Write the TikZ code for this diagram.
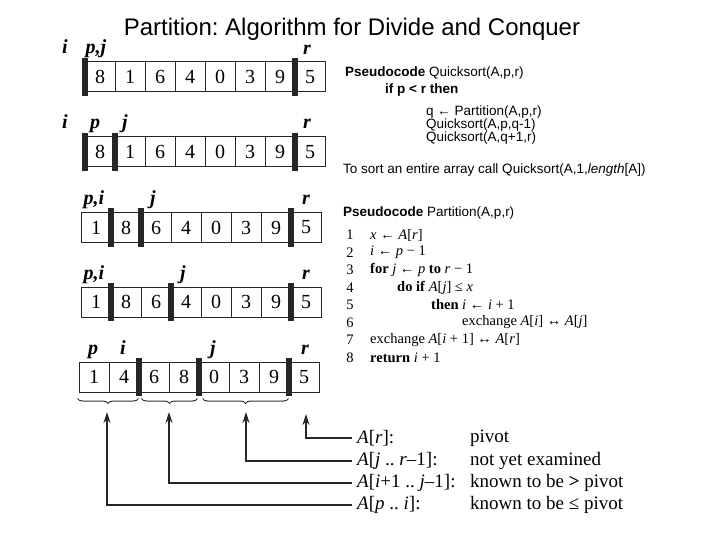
\documentclass[tikz,border=0pt]{standalone}
\usepackage{fontspec}
\setmainfont{Liberation Serif}
\setsansfont{Liberation Sans}
\frenchspacing
\usetikzlibrary{arrows.meta, positioning, decorations.pathreplacing}

\tikzset{
  cell/.style={draw=black!85, line width=1pt, minimum width=30pt,
               minimum height=30pt, inner sep=0pt,
               font=\fontsize{20}{20}\selectfont},
  bar/.style={fill=black!85, minimum width=6pt, minimum height=38pt, inner sep=0pt},
  ptr/.style={anchor=base, inner sep=0pt,
              font=\fontsize{20}{20}\selectfont\bfseries\itshape},
  code/.style={anchor=west, inner sep=0pt, font=\sffamily\fontsize{13.5}{14}\selectfont},
  line/.style={anchor=west, inner sep=0pt, font=\fontsize{14.5}{15}\selectfont},
  lnum/.style={inner sep=0pt, font=\fontsize{14.5}{15}\selectfont},
  leg/.style={anchor=west, inner ysep=0pt, inner xsep=5pt,
              font=\fontsize{19}{20}\selectfont},
  brc/.style={decorate, decoration={brace, mirror, amplitude=5pt},
              black!80, line width=1pt},
  arr/.style={-{Stealth[length=11pt, width=7pt]}, black!85, line width=1.2pt},
}

\begin{document}
\begin{tikzpicture}[x=1pt, y=-1pt]
  \useasboundingbox (0,0) rectangle (720,540);

  \node[inner sep=0pt, font=\sffamily\fontsize{24}{24}\selectfont] (title) at (352,29)
    {Partition: Algorithm for Divide and Conquer};

  % row 1
  \foreach \v [count=\k] in {8,1,6,4,0,3,9,5}
    \node[cell] (a\k) at ({85+30*\k-15}, 77) {\v};
  \node[bar] (ab1) at (a1.west) {};
  \node[bar] (ab2) at (a8.west) {};
  \node[ptr] (ai) at (65,54) {i};
  \node[ptr] (apj) at (96,54) {p,j};
  \node[ptr] (ar) at (307,55) {r};

  % row 2
  \foreach \v [count=\k] in {8,1,6,4,0,3,9,5}
    \node[cell] (b\k) at ({85+30*\k-15}, 152) {\v};
  \node[bar] (bb1) at (b1.west) {};
  \node[bar] (bb2) at (b2.west) {};
  \node[bar] (bb3) at (b8.west) {};
  \node[ptr] (bi) at (65,129) {i};
  \node[ptr] (bp) at (95,129) {p};
  \node[ptr] (bj) at (125,129) {j};
  \node[ptr] (br) at (307,129) {r};

  % row 3
  \foreach \v [count=\k] in {1,8,6,4,0,3,9,5}
    \node[cell] (c\k) at ({81+30*\k-15}, 227.5) {\v};
  \node[bar] (cb1) at (c2.west) {};
  \node[bar] (cb2) at (c3.west) {};
  \node[bar] (cb3) at (c8.west) {};
  \node[ptr] (cpi) at (94,205) {p,i};
  \node[ptr] (cj) at (153,205) {j};
  \node[ptr] (cr) at (306,205) {r};

  % row 4
  \foreach \v [count=\k] in {1,8,6,4,0,3,9,5}
    \node[cell] (d\k) at ({81+30*\k-15}, 302) {\v};
  \node[bar] (db1) at (d2.west) {};
  \node[bar] (db2) at (d4.west) {};
  \node[bar] (db3) at (d8.west) {};
  \node[ptr] (dpi) at (94,279) {p,i};
  \node[ptr] (dj) at (183,279) {j};
  \node[ptr] (dr) at (306,279) {r};

  % row 5
  \foreach \v [count=\k] in {1,4,6,8,0,3,9,5}
    \node[cell] (e\k) at ({79+30*\k-15}, 377) {\v};
  \node[bar] (eb1) at (e3.west) {};
  \node[bar] (eb2) at (e5.west) {};
  \node[bar] (eb3) at (e8.west) {};
  \node[ptr] (ep) at (93,354) {p};
  \node[ptr] (ei) at (123,354) {i};
  \node[ptr] (ej) at (213,354) {j};
  \node[ptr] (er) at (305,354) {r};

  % braces under the last row
  \draw[brc] ([xshift=-1pt,yshift=-6pt]e1.south west) -- ([xshift=-1pt,yshift=-6pt]e2.south east);
  \draw[brc] ([xshift=3pt,yshift=-6pt]e3.south west) -- ([xshift=-2pt,yshift=-6pt]e4.south east);
  \draw[brc] ([xshift=4pt,yshift=-6pt]e5.south west) -- ([xshift=-1pt,yshift=-6pt]e7.south east);

  \coordinate (t1) at (107,412);
  \coordinate (t2) at (169,412);
  \coordinate (t3) at (246,412);
  \coordinate (t4) at (306,414);

  % legend
  \node[leg] (lr) at (352,438) {\textit{A}[\textit{r}]:};
  \node[leg] (lj) at (352,461) {\textit{A}[\textit{j} .. \textit{r}–1]:};
  \node[leg] (li) at (352,483) {\textit{A}[\textit{i}+1 .. \textit{j}–1]:};
  \node[leg] (lp) at (352,505) {\textit{A}[\textit{p} .. \textit{i}]:};
  \node[leg] (mr) at (465,438) {pivot};
  \node[leg] (mj) at (465,461) {not yet examined};
  \node[leg] (mi) at (465,483) {known to be \textbf{>} pivot};
  \node[leg] (mp) at (465,505) {known to be ≤ pivot};

  \draw[arr] (lr.west) -| (t4);
  \draw[arr] (lj.west) -| (t3);
  \draw[arr] (li.west) -| (t2);
  \draw[arr] (lp.west) -| (t1);

  % Quicksort pseudocode
  \node[code] (qs0) at (345,73) {\textbf{Pseudocode} Quicksort(A,p,r)};
  \node[code] (qs1) at (385,90) {\textbf{if p < r then}};
  \node[code] (qs2) at (426,112) {q ← Partition(A,p,r)};
  \node[code] (qs3) at (426,125) {Quicksort(A,p,q-1)};
  \node[code] (qs4) at (426,138) {Quicksort(A,q+1,r)};
  \node[code] (qs5) at (343,170)
    {To sort an entire array call Quicksort(A,1,\textit{length}[A])};

  % Partition pseudocode
  \node[code] (pt0) at (343,213) {\textbf{Pseudocode} Partition(A,p,r)};
  \foreach \k in {1,...,8}
    \node[lnum] (n\k) at (350, {235+17.5*(\k-1)}) {\k};
  \node[line] (pl1) at (370,235) {\textit{x} ← \textit{A}[\textit{r}]};
  \node[line] (pl2) at (370,252.5) {\textit{i} ← \textit{p} − 1};
  \node[line] (pl3) at (370,270) {\textbf{for} \textit{j} ← \textit{p} \textbf{to} \textit{r} − 1};
  \node[line] (pl4) at (397,287.5) {\textbf{do if} \textit{A}[\textit{j}] ≤ \textit{x}};
  \node[line] (pl5) at (431,305) {\textbf{then} \textit{i} ← \textit{i} + 1};
  \node[line] (pl6) at (462,322.5) {exchange \textit{A}[\textit{i}] ↔ \textit{A}[\textit{j}]};
  \node[line] (pl7) at (370,340) {exchange \textit{A}[\textit{i} + 1] ↔ \textit{A}[\textit{r}]};
  \node[line] (pl8) at (370,357.5) {\textbf{return} \textit{i} + 1};
\end{tikzpicture}
\end{document}
